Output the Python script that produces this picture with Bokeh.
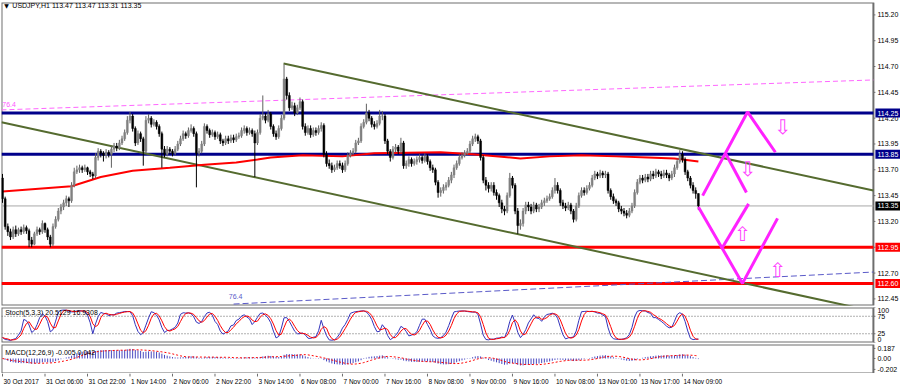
import numpy as np
from bokeh.plotting import figure
from bokeh.models import Range1d
from bokeh.layouts import column
from bokeh.embed import file_html
from bokeh.resources import INLINE
from bokeh.core.properties import value

# ---------------- data ----------------
title_text = "USDJPY,H1 113.47 113.47 113.31 113.35"
first_open = 113.62
close = [
113.42, 113.15, 113.10, 113.05, 113.12, 113.08, 113.12, 113.10, 113.14, 113.11,
113.02, 112.98, 113.08, 113.12, 113.10, 113.18, 113.12, 113.05, 112.98, 113.15,
113.22, 113.30, 113.34, 113.38, 113.42, 113.40, 113.55, 113.68, 113.70, 113.72,
113.70, 113.72, 113.68, 113.66, 113.64, 113.82, 113.88, 113.86, 113.84, 113.87,
113.85, 113.90, 113.93, 113.91, 113.96, 114.00, 114.06, 114.18, 114.22, 114.10,
113.96, 114.05, 114.00, 113.88, 114.18, 114.20, 114.14, 114.16, 114.12, 114.05,
113.90, 113.85, 113.90, 113.88, 113.86, 113.90, 113.95, 114.00, 114.05, 114.03,
114.08, 114.10, 114.05, 113.86, 113.88, 113.95, 114.12, 114.08, 114.04, 114.06,
114.02, 114.04, 113.98, 113.96, 114.00, 113.98, 114.01, 113.99, 114.02, 114.03,
114.08, 114.10, 114.06, 114.08, 114.05, 113.96, 114.06, 114.20, 114.22, 114.18,
114.24, 114.12, 114.05, 114.02, 114.10, 114.20, 114.58, 114.42, 114.30, 114.32,
114.25, 114.30, 114.36, 114.12, 114.06, 114.10, 114.04, 114.08, 114.06, 114.10,
114.13, 113.85, 113.76, 113.74, 113.70, 113.72, 113.76, 113.74, 113.70, 113.76,
113.84, 113.86, 113.88, 113.96, 113.98, 114.12, 114.16, 114.25, 114.20, 114.14,
114.12, 114.15, 114.22, 114.22, 113.98, 113.88, 113.82, 113.90, 113.92, 113.88,
113.96, 113.74, 113.76, 113.80, 113.76, 113.78, 113.80, 113.82, 113.79, 113.83,
113.78, 113.72, 113.70, 113.58, 113.48, 113.50, 113.53, 113.55, 113.60, 113.65,
113.72, 113.76, 113.82, 113.84, 113.86, 113.88, 113.95, 114.00, 114.02, 113.98,
113.82, 113.60, 113.55, 113.52, 113.55, 113.48, 113.45, 113.38, 113.32, 113.30,
113.45, 113.62, 113.55, 113.30, 113.16, 113.18, 113.30, 113.36, 113.34, 113.30,
113.36, 113.32, 113.34, 113.38, 113.40, 113.42, 113.44, 113.50, 113.55, 113.50,
113.38, 113.35, 113.33, 113.36, 113.30, 113.22, 113.35, 113.45, 113.50, 113.48,
113.52, 113.55, 113.62, 113.66, 113.64, 113.67, 113.65, 113.66, 113.50, 113.44,
113.40, 113.38, 113.32, 113.30, 113.28, 113.26, 113.30, 113.35, 113.48, 113.58,
113.62, 113.60, 113.63, 113.61, 113.66, 113.64, 113.68, 113.66, 113.64, 113.67,
113.65, 113.62, 113.66, 113.72, 113.78, 113.85, 113.80, 113.68, 113.62, 113.55,
113.50, 113.47, 113.35]
high = [
113.66, 113.44, 113.18, 113.13, 113.15, 113.16, 113.14, 113.15, 113.17, 113.16,
113.13, 113.05, 113.10, 113.15, 113.14, 113.21, 113.19, 113.14, 113.07, 113.18,
113.25, 113.33, 113.37, 113.41, 113.45, 113.44, 113.58, 113.72, 113.74, 113.75,
113.74, 113.75, 113.73, 113.70, 113.68, 113.86, 113.91, 113.90, 113.88, 113.90,
113.89, 113.93, 113.96, 113.96, 113.99, 114.03, 114.09, 114.22, 114.26, 114.24,
114.12, 114.08, 114.07, 114.02, 114.22, 114.24, 114.22, 114.19, 114.18, 114.14,
114.07, 113.93, 113.93, 113.92, 113.90, 113.93, 113.98, 114.03, 114.08, 114.07,
114.11, 114.14, 114.12, 114.07, 113.91, 113.98, 114.15, 114.14, 114.10, 114.09,
114.08, 114.07, 114.06, 114.00, 114.03, 114.03, 114.04, 114.04, 114.05, 114.06,
114.11, 114.13, 114.12, 114.11, 114.10, 114.08, 114.09, 114.24, 114.42, 114.25,
114.28, 114.26, 114.14, 114.08, 114.13, 114.23, 114.72, 114.60, 114.45, 114.36,
114.35, 114.33, 114.40, 114.38, 114.15, 114.13, 114.13, 114.11, 114.11, 114.13,
114.16, 114.15, 113.88, 113.80, 113.77, 113.75, 113.79, 113.79, 113.77, 113.79,
113.87, 113.89, 113.91, 113.99, 114.01, 114.15, 114.19, 114.34, 114.28, 114.22,
114.17, 114.18, 114.28, 114.27, 114.24, 114.00, 113.90, 113.93, 113.95, 113.94,
114.01, 113.98, 113.79, 113.83, 113.82, 113.81, 113.83, 113.85, 113.84, 113.86,
113.85, 113.80, 113.75, 113.72, 113.60, 113.53, 113.56, 113.58, 113.63, 113.68,
113.75, 113.79, 113.85, 113.87, 113.89, 113.91, 113.98, 114.03, 114.05, 114.04,
114.00, 113.84, 113.63, 113.58, 113.58, 113.58, 113.51, 113.47, 113.41, 113.35,
113.48, 113.67, 113.64, 113.57, 113.33, 113.22, 113.33, 113.39, 113.39, 113.37,
113.39, 113.38, 113.37, 113.41, 113.43, 113.45, 113.47, 113.53, 113.62, 113.58,
113.52, 113.41, 113.38, 113.39, 113.38, 113.32, 113.38, 113.48, 113.53, 113.53,
113.55, 113.58, 113.65, 113.69, 113.68, 113.70, 113.69, 113.69, 113.68, 113.52,
113.47, 113.42, 113.40, 113.35, 113.33, 113.31, 113.33, 113.38, 113.51, 113.61,
113.65, 113.65, 113.66, 113.66, 113.69, 113.69, 113.71, 113.70, 113.69, 113.70,
113.70, 113.67, 113.69, 113.75, 113.81, 113.89, 113.88, 113.82, 113.70, 113.64,
113.58, 113.53, 113.47]
low = [
113.38, 113.12, 113.06, 113.02, 113.03, 113.05, 113.06, 113.07, 113.08, 113.08,
112.95, 112.95, 112.97, 113.06, 113.07, 113.08, 113.09, 113.02, 112.95, 112.96,
113.13, 113.20, 113.27, 113.31, 113.35, 113.34, 113.38, 113.53, 113.66, 113.67,
113.67, 113.68, 113.65, 113.63, 113.61, 113.62, 113.79, 113.82, 113.78, 113.81,
113.82, 113.72, 113.87, 113.88, 113.89, 113.94, 113.98, 114.04, 114.15, 114.07,
113.93, 113.94, 113.97, 113.74, 113.86, 114.15, 114.11, 114.12, 114.09, 114.02,
113.72, 113.82, 113.83, 113.85, 113.83, 113.84, 113.88, 113.93, 113.98, 114.00,
114.01, 114.06, 114.02, 113.53, 113.83, 113.86, 113.93, 114.05, 114.01, 114.02,
113.99, 114.00, 113.95, 113.93, 113.94, 113.95, 113.96, 113.96, 113.97, 114.00,
114.01, 114.05, 114.03, 114.04, 114.02, 113.63, 113.94, 114.04, 114.18, 114.15,
114.16, 114.09, 114.02, 113.99, 114.00, 114.08, 114.18, 114.38, 114.27, 114.28,
114.22, 114.23, 114.28, 114.09, 114.03, 114.04, 114.01, 114.02, 114.03, 114.04,
114.07, 113.82, 113.73, 113.71, 113.67, 113.68, 113.70, 113.71, 113.67, 113.68,
113.74, 113.82, 113.84, 113.86, 113.94, 113.96, 114.10, 114.14, 114.17, 114.11,
114.09, 114.10, 114.13, 114.18, 113.95, 113.85, 113.78, 113.80, 113.87, 113.85,
113.86, 113.71, 113.71, 113.73, 113.73, 113.74, 113.75, 113.77, 113.76, 113.77,
113.75, 113.69, 113.67, 113.55, 113.43, 113.44, 113.47, 113.50, 113.53, 113.57,
113.62, 113.70, 113.74, 113.80, 113.82, 113.84, 113.86, 113.93, 113.97, 113.95,
113.79, 113.57, 113.50, 113.48, 113.49, 113.45, 113.41, 113.34, 113.28, 113.26,
113.28, 113.43, 113.52, 113.27, 113.08, 113.12, 113.15, 113.27, 113.30, 113.27,
113.28, 113.29, 113.29, 113.32, 113.35, 113.38, 113.40, 113.42, 113.47, 113.47,
113.35, 113.32, 113.30, 113.31, 113.27, 113.19, 113.20, 113.33, 113.43, 113.45,
113.46, 113.50, 113.53, 113.60, 113.61, 113.62, 113.62, 113.62, 113.47, 113.41,
113.37, 113.35, 113.29, 113.27, 113.25, 113.23, 113.24, 113.28, 113.33, 113.46,
113.56, 113.57, 113.58, 113.58, 113.59, 113.61, 113.62, 113.63, 113.61, 113.62,
113.62, 113.59, 113.60, 113.63, 113.70, 113.76, 113.77, 113.65, 113.59, 113.52,
113.47, 113.42, 113.31]

# moving average (red) read at sample bars
ma_bar = [0, 26, 37, 49, 63, 76, 88, 96, 101, 113, 128, 140, 165, 177, 195, 206, 218, 231, 243, 253, 262]
ma_val = [113.49, 113.54, 113.63, 113.69, 113.72, 113.75, 113.77, 113.80, 113.82, 113.84, 113.83,
          113.86, 113.87, 113.85, 113.81, 113.83, 113.84, 113.83, 113.82, 113.81, 113.78]

# horizontal levels and price labels
level_navy = [114.25, 113.85]
level_red = [112.95, 112.60]
bid = 113.35
box_prices = [114.25, 113.85, 113.35, 112.95, 112.60]
box_colors = ["#00008b", "#00008b", "#000000", "#ff0000", "#ff0000"]
price_ticks = [112.45, 112.70, 112.95, 113.20, 113.45, 113.70, 113.95, 114.20, 114.45, 114.70, 114.95, 115.20]
stoch_levels = [25, 75]
stoch_ticks = [100, 75, 25, 0]
macd_ticks = [0.187, 0.0, -0.202]
macd_tick_labels = ["0.187", "0.00", "-0.202"]

# channel / fibo lines (bar, price endpoints)
chan_up_x, chan_up_y = [105.8, 327.9], [114.73, 113.50]
chan_lo_x, chan_lo_y = [-0.4, 327.9], [114.16, 112.33]
fib_pink_x, fib_pink_y = [-0.4, 327.9], [114.28, 114.57]
fib_blue_x, fib_blue_y = [87.0, 327.9], [112.40, 112.71]

# magenta projection zigzags
zz_xs = [[263.6, 280.5, 291.0], [272.2, 280.1], [262.0, 278.6, 291.8], [271.1, 280.9]]
zz_ys = [[113.45, 114.26, 113.87], [113.86, 113.48], [113.34, 112.60, 113.23], [112.95, 113.37]]
arrow_x = [293.7, 280.5, 278.6, 291.8]
arrow_y = [114.11, 113.71, 113.08, 112.73]
arrow_t = ["\u21e9", "\u21e9", "\u21e7", "\u21e7"]

date_ticks = list(range(0, 257, 16))
date_labels = ["30 Oct 2017", "31 Oct 06:00", "31 Oct 22:00", "1 Nov 14:00", "2 Nov 06:00",
               "2 Nov 22:00", "3 Nov 14:00", "6 Nov 08:00", "7 Nov 00:00", "7 Nov 16:00",
               "8 Nov 08:00", "9 Nov 00:00", "9 Nov 16:00", "10 Nov 08:00", "13 Nov 01:00",
               "13 Nov 17:00", "14 Nov 09:00"]
stoch_text = "Stoch(5,3,3) 20.5129 16.9308"
macd_text = "MACD(12,26,9) -0.005 0.042"

# ---------------- derived ----------------
c = np.array(close); h = np.array(high); l = np.array(low)
o = np.array([first_open] + close[:-1])
n = len(c)
idx = np.arange(n)
up = c >= o

# Stochastic 5,3,3
num = np.zeros(n); den = np.zeros(n)
for i in range(n):
    a = max(0, i - 4)
    ll = l[a:i + 1].min(); hh = h[a:i + 1].max()
    num[i] = c[i] - ll; den[i] = hh - ll
K = np.zeros(n)
for i in range(n):
    a = max(0, i - 2)
    K[i] = 100 * num[a:i + 1].sum() / max(den[a:i + 1].sum(), 1e-9)
D = np.array([K[max(0, i - 2):i + 1].mean() for i in range(n)])

# MACD 12,26,9
def ema(x, p):
    out = np.zeros(len(x)); al = 2 / (p + 1); out[0] = x[0]
    for i in range(1, len(x)):
        out[i] = al * x[i] + (1 - al) * out[i - 1]
    return out
macd = ema(c, 12) - ema(c, 26)
sig = np.array([macd[max(0, i - 8):i + 1].mean() for i in range(n)])

# ---------------- layout helpers ----------------
FONT = value("Liberation Sans")
PX_PER_BAR = 2.656
X0 = -0.38
XEND = 327.9                                   # right edge of the chart area (bar units)
XR = Range1d(X0, X0 + 899 / PX_PER_BAR)        # every panel's frame runs to the page edge
TICK_X1 = XEND + 2 / PX_PER_BAR
W = 900
BORDER = "#6e6e6e"

def panel(height, ylo, yhi, top, bottom):
    f = figure(width=W, height=height, x_range=XR, y_range=Range1d(ylo, yhi),
               x_axis_location=None, y_axis_location=None, output_backend="svg",
               toolbar_location=None, min_border_left=1, min_border_right=0,
               min_border_top=top, min_border_bottom=bottom)
    f.grid.visible = False
    f.outline_line_color = None
    f.background_fill_color = "white"
    f.border_fill_color = "white"
    return f

def frame_box(f, ylo, yhi):
    f.quad(left=[X0], right=[XEND], bottom=[ylo], top=[yhi], fill_color=None,
           line_color=BORDER, line_width=2)

def scale(f, ticks, labels, baselines, label_pos=None):
    k = len(ticks)
    f.segment(x0=[XEND] * k, y0=ticks, x1=[TICK_X1] * k, y1=ticks, line_color=BORDER, line_width=1)
    pos = label_pos if label_pos is not None else ticks
    for t, s, b in zip(pos, labels, baselines):
        f.text([XEND], [t], text=[s], x_offset=4, text_color="black", text_font=FONT,
               text_font_size="7px", text_baseline=b, text_align="left")

# ---------------- main price panel ----------------
YLO, YHI = 112.386, 115.320
p = panel(306, YLO, YHI, 2, 1)
frame_box(p, YLO, YHI)
scale(p, price_ticks, ["%.2f" % t for t in price_ticks], ["middle"] * len(price_ticks))

p.segment(x0=[X0], y0=[bid], x1=[XEND], y1=[bid], line_color="#a8a8a8", line_width=1)
p.segment(x0=[X0] * 2, y0=level_navy, x1=[XEND] * 2, y1=level_navy, line_color="#00008b", line_width=3)
p.segment(x0=[X0] * 2, y0=level_red, x1=[XEND] * 2, y1=level_red, line_color="#ff0000", line_width=3)

p.line(fib_pink_x, fib_pink_y, line_color="#ff66ff", line_width=1, line_dash="5 3")
p.line(fib_blue_x, fib_blue_y, line_color="#5a5ac8", line_width=1, line_dash="6 3")
p.line(chan_up_x, chan_up_y, line_color="#556b2f", line_width=2)
p.line(chan_lo_x, chan_lo_y, line_color="#556b2f", line_width=2)
p.line(ma_bar, ma_val, line_color="#ff0000", line_width=2)

wick_col = ["#606060" if u else "#000000" for u in up]
body_col = ["#808080" if u else "#000000" for u in up]
p.segment(x0=idx, y0=l, x1=idx, y1=h, line_color=wick_col, line_width=1)
p.vbar(x=idx, width=0.7, top=np.maximum(o, c), bottom=np.minimum(o, c),
       fill_color=body_col, line_color=body_col, line_width=0.5)

p.multi_line(zz_xs, zz_ys, line_color="#ff22ff", line_width=3)
p.text(arrow_x, arrow_y, text=arrow_t, text_color="#ff44ff", text_font=value("DejaVu Sans"),
       text_font_size="20px", text_align="center", text_baseline="middle")

p.text([-0.1], [114.335], text=["76.4"], text_color="#ff55ff", text_font=FONT,
       text_font_size="7px", text_baseline="middle")
p.text([85.2], [112.47], text=["76.4"], text_color="#5a5ac8", text_font=FONT,
       text_font_size="7px", text_baseline="middle")
p.text([0.7], [115.288], text=["\u25bc"], text_color="black", text_font=value("DejaVu Sans"),
       text_font_size="6px", text_baseline="middle")
p.text([3.7], [115.288], text=[title_text], text_color="black", text_font=FONT,
       text_font_size="7px", text_baseline="middle")

# coloured price boxes on the scale
p.text([XEND] * len(box_prices), box_prices, text=["%.2f" % v for v in box_prices],
       x_offset=2, text_color="white", text_font=FONT, text_font_size="7px",
       text_baseline="middle", text_align="left", background_fill_color=box_colors,
       padding=2)

# ---------------- stochastic panel ----------------
ps = panel(37, 0, 100, 1, 1)
frame_box(ps, 0, 100)
scale(ps, stoch_ticks, [str(t) for t in stoch_ticks], ["top", "middle", "middle", "bottom"],
      label_pos=[99, 75, 25, 1])
ps.segment(x0=[X0] * 2, y0=stoch_levels, x1=[XEND] * 2, y1=stoch_levels,
           line_color="#606060", line_width=1, line_dash="1 2")
ps.line(idx, K, line_color="#3333bb", line_width=1)
ps.line(idx, D, line_color="#ff0000", line_width=1)
ps.text([1.0], [86], text=[stoch_text], text_color="black", text_font=FONT,
        text_font_size="7px", text_baseline="middle")

# ---------------- MACD panel ----------------
MLO, MHI = -0.278, 0.259
pm = panel(30, MLO, MHI, 1, 0)
frame_box(pm, MLO, MHI)
scale(pm, macd_ticks, macd_tick_labels, ["middle"] * 3)
pm.segment(x0=idx, y0=np.zeros(n), x1=idx, y1=macd, line_color="#4848c0", line_width=1)
pm.line(idx, sig, line_color="#ff0000", line_width=1, line_dash="2 2")
pm.text([1.0], [0.11], text=[macd_text], text_color="black", text_font=FONT,
        text_font_size="7px", text_baseline="middle")

# ---------------- date strip ----------------
pd_ = panel(14, 0, 14, 0, 0)
pd_.segment(x0=date_ticks, y0=[14] * len(date_ticks), x1=date_ticks, y1=[11] * len(date_ticks),
            line_color=BORDER, line_width=1)
pd_.text(date_ticks, [6.5] * len(date_ticks), text=date_labels, text_color="black", text_font=FONT,
         text_font_size="6.5px", text_baseline="middle", text_align="left", x_offset=1)

layout = column(p, ps, pm, pd_, spacing=0)
open("out.html", "w").write(file_html(layout, INLINE))
